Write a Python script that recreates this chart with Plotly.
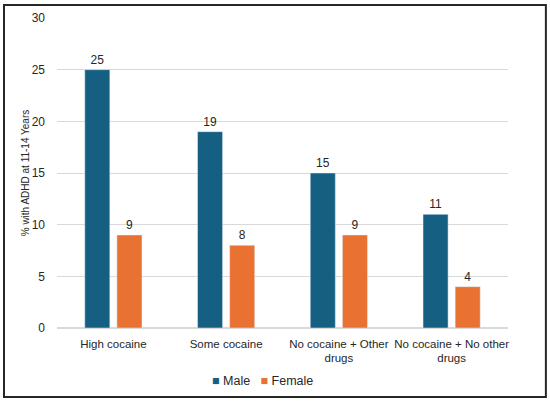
import plotly.graph_objects as go

categories = ["High cocaine", "Some cocaine", "No cocaine + Other<br>drugs", "No cocaine + No other<br>drugs"]
male = [25, 19, 15, 11]
female = [9, 8, 9, 4]
y_ticks = [0, 5, 10, 15, 20, 25, 30]
series_names = ["Male", "Female"]
series_colors = ["#156082", "#E97132"]

FONT = "Liberation Sans, Arial, sans-serif"
TXT = "#262626"

fig = go.Figure()
for name, vals, col in zip(series_names, [male, female], series_colors):
    fig.add_trace(go.Bar(name=name, x=categories, y=vals, marker_color=col,
                         text=vals, textposition="outside", cliponaxis=False,
                         textfont=dict(size=12, color=TXT, family=FONT)))

legend_text = "   ".join(
    f"<span style='color:{c}'>■</span> {n}" for n, c in zip(series_names, series_colors)
)

fig.update_layout(
    width=550, height=402,
    margin=dict(l=57, r=42, t=18, b=74, autoexpand=False),
    paper_bgcolor="white", plot_bgcolor="white",
    barmode="group", bargap=0.43, bargroupgap=0.22,
    font=dict(family=FONT, size=12, color=TXT),
    showlegend=False,
    xaxis=dict(showgrid=False, showline=False, ticks="", tickangle=0, automargin=False,
               ticklabelstandoff=7, tickfont=dict(size=11.5, color=TXT)),
    yaxis=dict(range=[0, 30], tickvals=y_ticks, showgrid=True, gridcolor="#D9D9D9",
               gridwidth=1, zeroline=True, zerolinecolor="#D9D9D9", ticks="", automargin=False,
               ticklabelstandoff=11, tickfont=dict(size=12, color=TXT),
               title=dict(text="% with ADHD at 11-14 Years", font=dict(size=10, color=TXT), standoff=0)),
    annotations=[dict(text=legend_text, xref="paper", yref="paper", x=0.455, y=-0.171,
                      xanchor="center", yanchor="middle", showarrow=False,
                      font=dict(size=12.5, color=TXT, family=FONT))],
    shapes=[dict(type="rect", xref="paper", yref="paper",
                 x0=-0.1175, x1=1.084, y0=-0.2226, y1=1.042,
                 line=dict(color="#262626", width=2), fillcolor="rgba(0,0,0,0)")],
)

fig.write_html("out.html", config={"displayModeBar": False},
               post_script="document.body.style.margin='0';")
